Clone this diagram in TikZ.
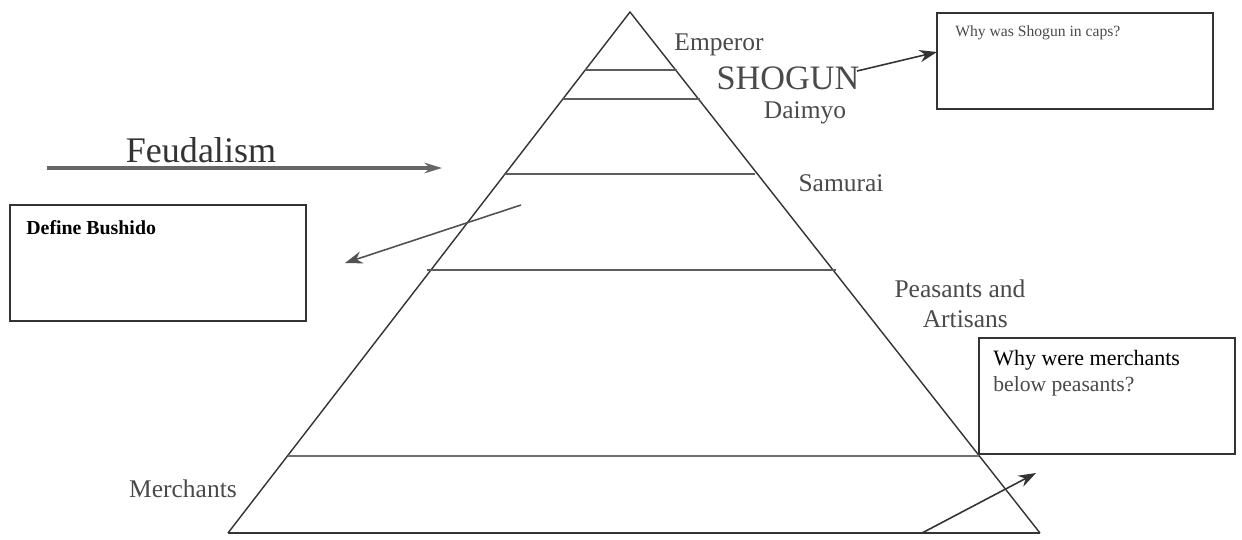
\documentclass[tikz,border=0pt]{standalone}
\usepackage{fontspec}
\setmainfont{Liberation Serif}
\usetikzlibrary{arrows.meta}
\definecolor{ink}{HTML}{333333}
\definecolor{txt}{HTML}{4A4A4A}
\begin{document}
\begin{tikzpicture}[x=0.02cm,y=-0.02cm,
  edge/.style={draw=ink,line width=0.8pt},
  tier/.style={draw=ink!80,line width=0.9pt},
  lab/.style={text=txt,inner sep=0pt,font=\fontsize{14.5}{16}\selectfont},
  qbox/.style={draw=ink,line width=0.9pt,inner sep=0pt,fill=white},
  qtxt/.style={anchor=west,inner sep=0pt,text=txt},
  arr/.style={draw=ink,line width=0.9pt,-{Stealth[length=10pt,width=7pt]}}]
\useasboundingbox (0,0) rectangle (1242,539);
\fill[white] (0,0) rectangle (1242,539);
% pyramid
\coordinate (apex) at (630,12);
\coordinate (bl) at (228,533);
\coordinate (br) at (1040,533);
\draw[edge] (bl) -- (apex) -- (br);
\draw[draw=ink,line width=1.2pt] (bl) -- (br);
\draw[tier] (585,70) -- (677,70);
\draw[tier] (563,99) -- (700,99);
\draw[tier] (504,174) -- (755,174);
\draw[tier] (427,270) -- (836,270);
\draw[draw=ink!70,line width=1pt] (288,456) -- (979,456);
% labels
\node[lab] (emp) at (719,45) {Emperor};
\node[lab,font=\fontsize{19.5}{22}\selectfont] (sho) at (788,78) {SHOGUN};
\node[lab] (dai) at (805,113) {Daimyo};
\node[lab] (sam) at (841,183) {Samurai};
\node[lab,align=center] (pea) at (960,304) {Peasants and\\[1pt]\hspace*{6pt}Artisans};
\node[lab] (mer) at (183,489) {Merchants};
% Feudalism
\node[lab,font=\fontsize{20.5}{22}\selectfont,text=ink] (feu) at (201,150) {Feudalism};
\coordinate (f0) at (47,168);
\coordinate (f1) at (442,168);
\draw[draw=ink!75,line width=2.2pt,-{Stealth[length=10pt,width=6pt]}] (f0) -- (f1);
% question boxes
\node[qbox,minimum width=5.52cm,minimum height=1.92cm] (qs) at (1075,61) {};
\node[qtxt,font=\fontsize{8.9}{10}\selectfont] (qst) at (955,33) {Why was Shogun in caps?};
\node[qbox,minimum width=5.92cm,minimum height=2.32cm] (qb) at (158,263) {};
\node[qtxt,font=\bfseries\fontsize{11.3}{13}\selectfont,text=black] (qbt) at (26,228) {Define Bushido};
\node[qbox,minimum width=5.12cm,minimum height=2.32cm] (qm) at (1107,396) {};
\node[qtxt,font=\fontsize{12.5}{14}\selectfont,text=black] (qmt1) at (993,360) {Why were merchants};
\node[qtxt,font=\fontsize{12.3}{14}\selectfont] (qmt2) at (993,386) {below peasants?};
% arrows
\coordinate (s0) at (857,71);
\coordinate (s1) at (937,52);
\draw[arr] (s0) -- (s1);
\coordinate (b0) at (521,205);
\coordinate (b1) at (345,263);
\draw[arr,draw=ink!85] (b0) -- (b1);
\coordinate (m0) at (922,533);
\coordinate (m1) at (1036,473);
\draw[arr] (m0) -- (m1);
\end{tikzpicture}
\end{document}
